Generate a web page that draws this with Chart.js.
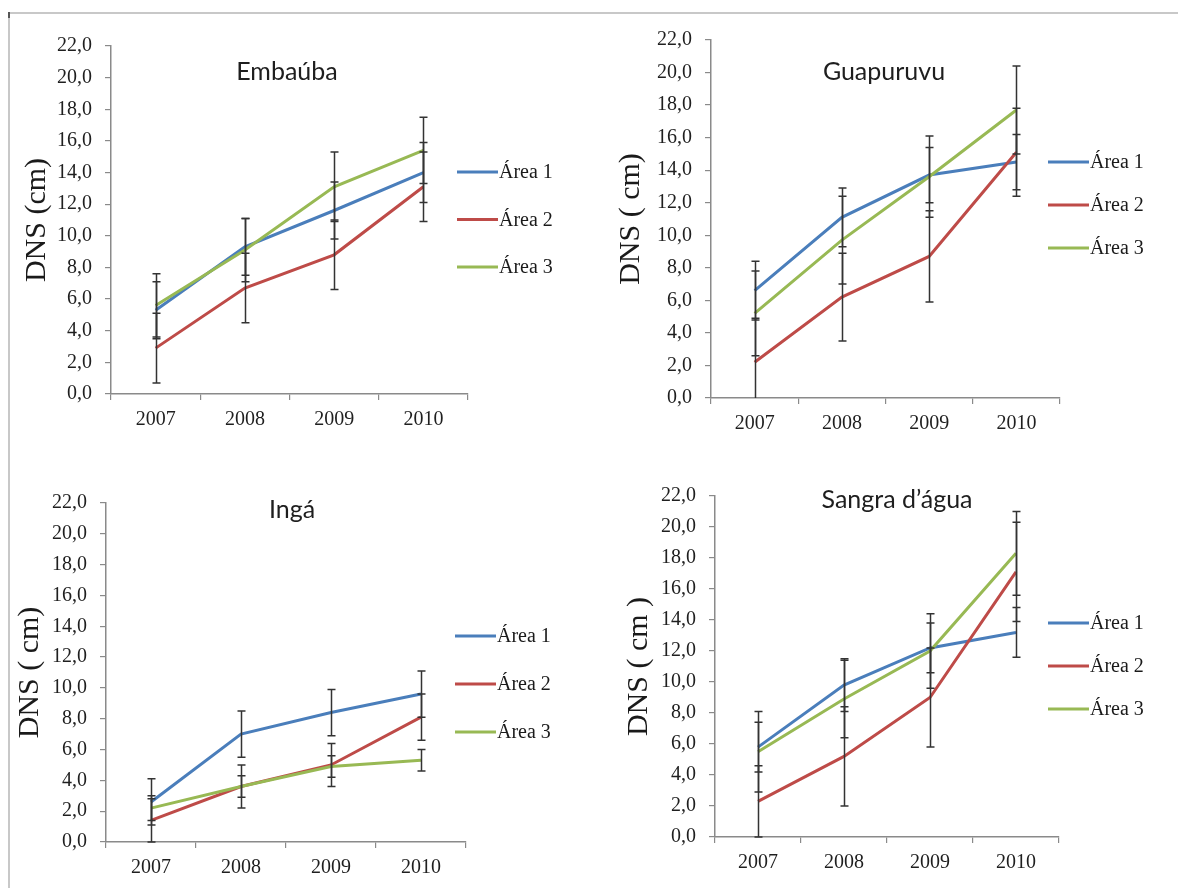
<!DOCTYPE html>
<html><head><meta charset="utf-8">
<script src="https://cdn.jsdelivr.net/npm/chart.js@4.4.1/dist/chart.umd.min.js"></script>
<style>
html,body{margin:0;padding:0;background:#fff;}
#wrap{position:relative;width:1178px;height:888px;overflow:hidden;background:#fff;}
#frame{position:absolute;left:8px;top:12px;width:1200px;height:900px;border-top:2px solid #c8c8c8;border-left:2px solid #c8c8c8;}
#corner{position:absolute;left:8px;top:12px;width:2px;height:6px;background:#555;}
canvas{position:absolute;}
</style></head><body>
<div id="wrap"><div id="frame"></div><div id="corner"></div>
<canvas id="c1" width="589" height="444" style="left:0;top:0"></canvas>
<canvas id="c2" width="589" height="444" style="left:589px;top:0"></canvas>
<canvas id="c3" width="589" height="444" style="left:0;top:444px"></canvas>
<canvas id="c4" width="589" height="444" style="left:589px;top:444px"></canvas>
</div>
<script>
// ---------- data ----------
const years = ['2007', '2008', '2009', '2010'];
const seriesNames = ['Área 1', 'Área 2', 'Área 3'];
const chartTitles = ['Embaúba', 'Guapuruvu', 'Ingá', 'Sangra d’água'];
const yTitles = ['DNS (cm)', 'DNS ( cm)', 'DNS ( cm)', 'DNS ( cm )'];

const embauba_a1 = [5.3, 9.3, 11.6, 14.0];
const embauba_a2 = [2.9, 6.7, 8.8, 13.1];
const embauba_a3 = [5.6, 9.1, 13.1, 15.4];
const embauba_e1 = [1.8, 1.8, 1.8, 1.9];
const embauba_e2 = [2.2, 2.2, 2.2, 2.2];
const embauba_e3 = [2.0, 2.0, 2.2, 2.1];

const guapuruvu_a1 = [6.6, 11.1, 13.7, 14.5];
const guapuruvu_a2 = [2.2, 6.2, 8.7, 15.1];
const guapuruvu_a3 = [5.2, 9.7, 13.6, 17.7];
const guapuruvu_e1 = [1.8, 1.8, 1.7, 1.7];
const guapuruvu_e2 = [2.7, 2.7, 2.8, 2.7];
const guapuruvu_e3 = [2.6, 2.7, 2.5, 2.7];

const inga_a1 = [2.6, 7.0, 8.4, 9.6];
const inga_a2 = [1.4, 3.6, 5.0, 8.1];
const inga_a3 = [2.2, 3.6, 4.9, 5.3];
const inga_e1 = [1.5, 1.5, 1.5, 1.5];
const inga_e2 = [1.4, 1.4, 1.4, 1.5];
const inga_e3 = [0.8, 0.7, 0.7, 0.7];

const sangra_a1 = [5.8, 9.8, 12.2, 13.2];
const sangra_a2 = [2.3, 5.2, 9.0, 17.1];
const sangra_a3 = [5.5, 8.9, 12.0, 18.3];
const sangra_e1 = [1.6, 1.7, 1.6, 1.6];
const sangra_e2 = [2.3, 3.2, 3.2, 3.2];
const sangra_e3 = [2.6, 2.5, 2.4, 2.7];

const yMin = 0, yMax = 22, yStep = 2;

// ---------- styles ----------
const colors = ['#4A7EBB', '#BE4B48', '#98B954'];
const serif = "'Liberation Serif', 'Times New Roman', serif";

const errorBars = {
  id: 'errorBars',
  afterDatasetsDraw(chart, args, o) {
    const {ctx, chartArea: ca, scales: {x, y}} = chart;
    ctx.save();
    ctx.strokeStyle = o.color; ctx.lineWidth = o.width;
    chart.data.datasets.forEach(ds => {
      ds.data.forEach((v, i) => {
        const e = ds.errors[i];
        const px = Math.round(x.getPixelForValue(i)) + 0.5;
        const yt = y.getPixelForValue(v + e);
        const yb = y.getPixelForValue(v - e);
        ctx.beginPath();
        ctx.moveTo(px, yt); ctx.lineTo(px, Math.min(yb, ca.bottom));
        ctx.moveTo(px - o.cap, yt); ctx.lineTo(px + o.cap, yt);
        if (yb <= ca.bottom) { ctx.moveTo(px - o.cap, yb); ctx.lineTo(px + o.cap, yb); }
        ctx.stroke();
      });
    });
    ctx.restore();
  }
};

const sideLegend = {
  id: 'sideLegend',
  afterDraw(chart, args, o) {
    const ctx = chart.ctx;
    ctx.save();
    ctx.font = o.font; ctx.textBaseline = 'middle'; ctx.textAlign = 'left'; ctx.fillStyle = o.color;
    chart.data.datasets.forEach((ds, i) => {
      const yy = o.y0 + i * o.dy;
      ctx.strokeStyle = ds.borderColor; ctx.lineWidth = 3;
      ctx.beginPath(); ctx.moveTo(o.x, yy); ctx.lineTo(o.x + o.len, yy); ctx.stroke();
      ctx.fillText(ds.label, o.x + o.len + 1, yy + 1);
    });
    ctx.restore();
  }
};

const innerTitle = {
  id: 'innerTitle',
  afterDraw(chart, args, o) {
    const ctx = chart.ctx;
    ctx.save();
    ctx.font = o.font; ctx.fillStyle = o.color; ctx.textAlign = 'center'; ctx.textBaseline = 'middle';
    ctx.fillText(chart.options.plugins.title.text, o.x, o.y);
    ctx.restore();
  }
};

function makeChart(id, idx, vals, errs, geo) {
  const datasets = vals.map((d, i) => ({
    label: seriesNames[i], data: d, errors: errs[i],
    borderColor: colors[i], backgroundColor: colors[i],
    borderWidth: 3, pointRadius: 0, tension: 0, order: 2 - i
  }));
  return new Chart(document.getElementById(id), {
    type: 'line',
    data: { labels: years, datasets },
    plugins: [errorBars, sideLegend, innerTitle],
    options: {
      responsive: false, animation: false,
      layout: { padding: { top: geo.top, right: geo.right, left: 0, bottom: 0 } },
      plugins: {
        legend: { display: false }, tooltip: { enabled: false },
        title: { display: false, text: chartTitles[idx] },
        errorBars: { color: '#333333', width: 1.5, cap: 4 },
        sideLegend: { x: geo.lx, y0: geo.ly, dy: geo.ldy, len: 41, font: '20px ' + serif, color: '#1a1a1a' },
        innerTitle: { x: geo.tx, y: geo.ty, font: "25px Lato, 'Open Sans', sans-serif", color: '#1e1e1e' }
      },
      scales: {
        x: {
          type: 'category', offset: true,
          grid: { display: true, offset: true, drawOnChartArea: false, drawTicks: true, tickLength: 6, color: '#8a8a8a', lineWidth: 1.2 },
          border: { display: true, color: '#8a8a8a', width: 1.5 },
          ticks: { color: '#1f1f1f', font: { family: serif, size: 20 }, padding: 8, maxRotation: 0 },
          afterFit: s => { s.height = geo.xh; }
        },
        y: {
          min: yMin, max: yMax,
          grid: { display: true, drawOnChartArea: false, drawTicks: true, tickLength: 6, color: '#8a8a8a', lineWidth: 1.2 },
          border: { display: true, color: '#8a8a8a', width: 1.5 },
          ticks: { stepSize: yStep, color: '#1f1f1f', font: { family: serif, size: 20 }, padding: 13,
                   callback: v => v.toFixed(1).replace('.', ',') },
          title: { display: true, text: yTitles[idx], color: '#1a1a1a', font: { family: serif, size: 30 }, padding: { top: geo.tp, bottom: 0 } },
          afterFit: s => { s.width = geo.yw; }
        }
      }
    }
  });
}

makeChart('c1', 0, [embauba_a1, embauba_a2, embauba_a3], [embauba_e1, embauba_e2, embauba_e3],
  { top: 46, right: 121, xh: 50, yw: 111, tp: 19, lx: 457, ly: 172, ldy: 47.5, tx: 287, ty: 72 });
makeChart('c2', 1, [guapuruvu_a1, guapuruvu_a2, guapuruvu_a3], [guapuruvu_e1, guapuruvu_e2, guapuruvu_e3],
  { top: 40, right: 118, xh: 46, yw: 122, tp: 24, lx: 459, ly: 162, ldy: 43, tx: 295, ty: 72 });
makeChart('c3', 2, [inga_a1, inga_a2, inga_a3], [inga_e1, inga_e2, inga_e3],
  { top: 59, right: 123, xh: 46, yw: 106, tp: 12, lx: 455, ly: 192, ldy: 48, tx: 292, ty: 66 });
makeChart('c4', 3, [sangra_a1, sangra_a2, sangra_a3], [sangra_e1, sangra_e2, sangra_e3],
  { top: 52, right: 119, xh: 51, yw: 126, tp: 32, lx: 459, ly: 179, ldy: 43, tx: 308, ty: 56 });
</script>
</body></html>
